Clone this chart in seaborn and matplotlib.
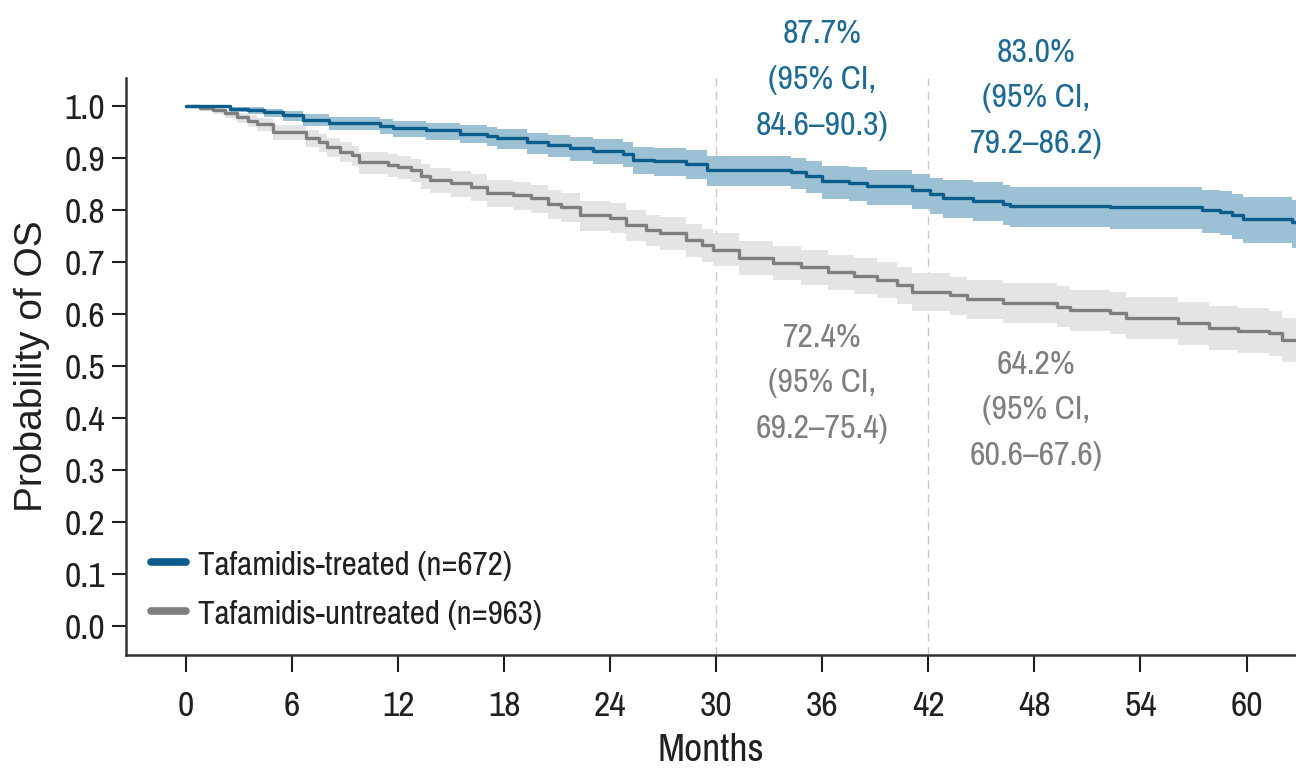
import matplotlib
matplotlib.use("Agg")
import matplotlib.pyplot as plt
import seaborn as sns
import pandas as pd

# Kaplan-Meier estimates (months, survival probability, 95% CI bounds)
treated_t = [0, 2.5, 3.5, 4.4, 5.5, 6.6, 8.1, 11.0, 11.7, 13.6, 15.5, 17.0, 17.6, 19.3,
             20.5, 21.7, 23.0, 24.7, 25.3, 26.5, 28.3, 29.5, 34.2, 35.1, 36.0, 37.5,
             38.5, 41.1, 42.1, 42.8, 44.5, 46.2, 46.6, 52.3, 57.5, 58.5, 59.2, 59.8,
             62.6, 63.5]
treated_s = [1.000, 0.995, 0.992, 0.988, 0.982, 0.974, 0.967, 0.962, 0.958, 0.953, 0.947,
             0.943, 0.938, 0.930, 0.925, 0.919, 0.914, 0.908, 0.897, 0.894, 0.889, 0.877,
             0.873, 0.866, 0.856, 0.852, 0.846, 0.838, 0.830, 0.823, 0.818, 0.812, 0.808,
             0.806, 0.800, 0.796, 0.790, 0.783, 0.776, 0.776]
treated_lo = [1.000, 0.988, 0.984, 0.979, 0.971, 0.961, 0.953, 0.946, 0.941, 0.935, 0.928,
              0.923, 0.917, 0.908, 0.902, 0.895, 0.889, 0.882, 0.870, 0.866, 0.860, 0.846,
              0.841, 0.833, 0.822, 0.817, 0.810, 0.801, 0.792, 0.784, 0.778, 0.771, 0.767,
              0.764, 0.756, 0.751, 0.744, 0.736, 0.727, 0.727]
treated_hi = [1.000, 0.999, 0.998, 0.995, 0.991, 0.985, 0.979, 0.975, 0.972, 0.968, 0.963,
              0.960, 0.956, 0.949, 0.945, 0.940, 0.936, 0.931, 0.921, 0.919, 0.915, 0.903,
              0.900, 0.894, 0.885, 0.882, 0.877, 0.870, 0.862, 0.857, 0.853, 0.848, 0.845,
              0.844, 0.839, 0.836, 0.831, 0.825, 0.820, 0.820]

untreated_t = [0, 0.8, 1.5, 2.2, 2.9, 3.5, 4.0, 4.9, 6.8, 7.5, 8.0, 8.7, 9.4, 9.8, 11.4,
               12.0, 12.7, 13.3, 13.8, 15.0, 16.1, 17.0, 18.5, 19.5, 20.5, 21.2, 22.3,
               24.0, 24.9, 26.0, 26.8, 28.3, 29.2, 29.8, 31.3, 33.2, 34.8, 36.3, 37.8,
               39.1, 40.2, 41.1, 43.2, 44.2, 46.2, 49.3, 50.0, 52.3, 53.2, 56.1, 57.9,
               59.5, 61.3, 62.0, 63.5]
untreated_s = [1.000, 0.996, 0.992, 0.986, 0.979, 0.972, 0.965, 0.950, 0.938, 0.930, 0.921,
               0.912, 0.905, 0.892, 0.887, 0.882, 0.877, 0.866, 0.858, 0.851, 0.845, 0.833,
               0.828, 0.823, 0.812, 0.806, 0.790, 0.785, 0.771, 0.762, 0.756, 0.742, 0.733,
               0.724, 0.708, 0.698, 0.690, 0.681, 0.673, 0.665, 0.655, 0.643, 0.636, 0.628,
               0.621, 0.614, 0.608, 0.602, 0.592, 0.582, 0.573, 0.568, 0.563, 0.550, 0.550]
untreated_lo = [1.000, 0.990, 0.984, 0.977, 0.968, 0.960, 0.952, 0.935, 0.921, 0.912, 0.902,
                0.892, 0.884, 0.870, 0.864, 0.859, 0.853, 0.841, 0.833, 0.825, 0.818, 0.806,
                0.800, 0.795, 0.783, 0.777, 0.760, 0.755, 0.740, 0.731, 0.724, 0.710, 0.700,
                0.692, 0.675, 0.665, 0.656, 0.647, 0.638, 0.630, 0.619, 0.606, 0.599, 0.590,
                0.582, 0.575, 0.568, 0.561, 0.551, 0.540, 0.531, 0.525, 0.520, 0.508, 0.508]
untreated_hi = [1.000, 0.999, 0.997, 0.993, 0.987, 0.982, 0.976, 0.963, 0.953, 0.946, 0.938,
                0.930, 0.924, 0.912, 0.908, 0.903, 0.899, 0.889, 0.881, 0.875, 0.869, 0.858,
                0.854, 0.849, 0.838, 0.833, 0.818, 0.813, 0.800, 0.791, 0.786, 0.773, 0.764,
                0.755, 0.740, 0.730, 0.723, 0.714, 0.707, 0.700, 0.690, 0.678, 0.672, 0.665,
                0.659, 0.653, 0.647, 0.642, 0.633, 0.624, 0.616, 0.611, 0.606, 0.592, 0.592]

groups = ["Tafamidis-treated (n=672)", "Tafamidis-untreated (n=963)"]
landmark_months = [30, 42]
treated_notes = ["87.7%\n(95% CI,\n84.6\u201390.3)", "83.0%\n(95% CI,\n79.2\u201386.2)"]
untreated_notes = ["72.4%\n(95% CI,\n69.2\u201375.4)", "64.2%\n(95% CI,\n60.6\u201367.6)"]
x_ticks = [0, 6, 12, 18, 24, 30, 36, 42, 48, 54, 60]
y_ticks = [0.0, 0.1, 0.2, 0.3, 0.4, 0.5, 0.6, 0.7, 0.8, 0.9, 1.0]

BLUE, BLUE_BAND = "#0b5e8c", "#9cc1d5"
GREY, GREY_BAND = "#7f7f81", "#e3e4e6"
INK = "#231f20"

sns.set_theme(style="ticks")
plt.rcParams["font.family"] = ["Pragati Narrow", "Roboto Condensed", "DejaVu Sans"]

df = pd.concat([
    pd.DataFrame({"Months": treated_t, "OS": treated_s, "Group": groups[0]}),
    pd.DataFrame({"Months": untreated_t, "OS": untreated_s, "Group": groups[1]}),
])

fig = plt.figure(figsize=(12.96, 7.79), dpi=100)
ax = fig.add_axes([0.0972, 0.159, 0.9028, 0.741])

ax.fill_between(untreated_t, untreated_lo, untreated_hi, step="post",
                color=GREY_BAND, lw=0, zorder=1)
ax.fill_between(treated_t, treated_lo, treated_hi, step="post",
                color=BLUE_BAND, lw=0, zorder=1)
sns.lineplot(data=df, x="Months", y="OS", hue="Group", hue_order=groups[::-1],
             palette={groups[0]: BLUE, groups[1]: GREY}, drawstyle="steps-post",
             linewidth=2.4, estimator=None, legend=False, ax=ax, zorder=3)

for m in landmark_months:
    ax.axvline(m, color="#c8c8c8", lw=1.0, ls=(0, (6, 4)), zorder=0)

ax.set_xlim(-3.4, 62.8)
ax.set_ylim(-0.056, 1.054)
ax.set_xticks(x_ticks)
ax.set_yticks(y_ticks)
ax.set_yticklabels([f"{v:.1f}" for v in y_ticks])
ax.tick_params(axis="both", labelsize=28, colors=INK, width=1.5, length=10, pad=5)
ax.tick_params(axis="x", length=12, pad=13)
for s in ("top", "right"):
    ax.spines[s].set_visible(False)
for s in ("left", "bottom"):
    ax.spines[s].set_linewidth(1.8)
    ax.spines[s].set_color("#333333")
ax.set_xlabel("Months", fontsize=31, color=INK, labelpad=8)
ax.set_ylabel("Probability of OS", fontsize=28, color=INK, labelpad=10,
              family=["Liberation Sans", "DejaVu Sans"])

note_x = [36.0, 48.1]
note_style = dict(ha="center", va="center", fontsize=26.5, linespacing=1.65)
ax.text(note_x[0], 1.05, treated_notes[0], color="#1d6a96", clip_on=False, **note_style)
ax.text(note_x[1], 1.015, treated_notes[1], color="#1d6a96", clip_on=False, **note_style)
ax.text(note_x[0], 0.467, untreated_notes[0], color=GREY, **note_style)
ax.text(note_x[1], 0.415, untreated_notes[1], color=GREY, **note_style)

handles = [plt.Line2D([], [], color=BLUE, lw=5.5), plt.Line2D([], [], color=GREY, lw=5.5)]
ax.legend(handles, groups, loc="lower left", bbox_to_anchor=(0.0, 0.0), frameon=False,
          fontsize=26, handlelength=0.95, handletextpad=0.35, labelspacing=0.5,
          labelcolor=INK, borderaxespad=0.3)

fig.savefig("out.png", dpi=100)
